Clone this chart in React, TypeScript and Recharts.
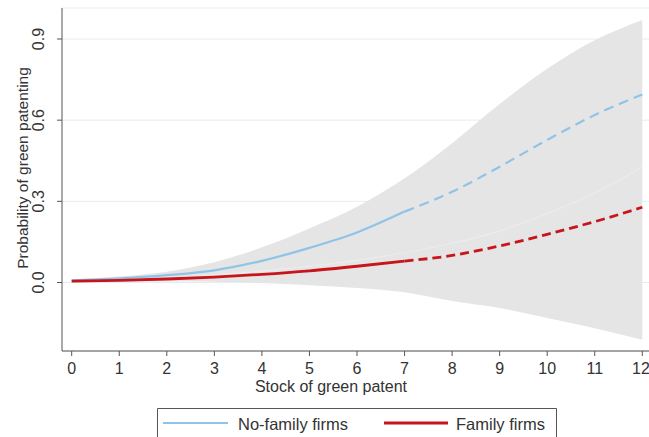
import React from 'react';
import { ComposedChart, Line, Area, XAxis, YAxis, CartesianGrid, Legend } from 'recharts';

const stock = [0, 1, 2, 3, 4, 5, 6, 7, 8, 9, 10, 11, 12];
const noFamily = [0.008, 0.015, 0.027, 0.045, 0.08, 0.128, 0.185, 0.262, 0.335, 0.428, 0.527, 0.619, 0.695];
const family = [0.005, 0.008, 0.013, 0.02, 0.03, 0.043, 0.06, 0.079, 0.1, 0.135, 0.178, 0.225, 0.278];
const ciUpper = [0.012, 0.022, 0.04, 0.075, 0.13, 0.2, 0.28, 0.385, 0.515, 0.66, 0.79, 0.895, 0.97];
const ciLower = [0, 0.003, 0.004, 0.003, -0.002, -0.01, -0.02, -0.036, -0.068, -0.094, -0.131, -0.169, -0.212];
const ciInner = [0.008, 0.012, 0.018, 0.028, 0.042, 0.06, 0.082, 0.11, 0.145, 0.19, 0.255, 0.33, 0.428];
const xTicks = [0, 1, 2, 3, 4, 5, 6, 7, 8, 9, 10, 11, 12];
const yTicks = [0, 0.3, 0.6, 0.9];
const observedMax = 7;

const BLUE = '#8fc4e8';
const RED = '#c8151b';
const FONT = '"Liberation Sans", Arial, sans-serif';

const data = stock.map((x, i) => ({
  x,
  band: [ciLower[i], ciUpper[i]],
  inner: ciInner[i],
  nfSolid: x <= observedMax ? noFamily[i] : null,
  nfDash: x >= observedMax ? noFamily[i] : null,
  fSolid: x <= observedMax ? family[i] : null,
  fDash: x >= observedMax ? family[i] : null,
}));

const XTick = (props: any) => {
  const { x, payload } = props;
  return (
    <text x={x} y={374} textAnchor="middle" fontSize={16} fill="#333" fontFamily={FONT}>
      {payload.value}
    </text>
  );
};

const YTick = (props: any) => {
  const { y, payload } = props;
  return (
    <text
      x={44}
      y={y}
      textAnchor="middle"
      fontSize={16}
      fill="#333"
      fontFamily={FONT}
      transform={`rotate(-90, 44, ${y})`}
    >
      {Number(payload.value).toFixed(1)}
    </text>
  );
};

const XTitle = () => (
  <text x={331} y={392} textAnchor="middle" fontSize={16} fill="#333" fontFamily={FONT}>
    Stock of green patent
  </text>
);

const YTitle = () => (
  <text
    x={28}
    y={168}
    textAnchor="middle"
    fontSize={15.5}
    fill="#333"
    fontFamily={FONT}
    transform="rotate(-90, 28, 168)"
  >
    Probability of green patenting
  </text>
);

const LegendBox = () => (
  <svg width={400} height={29} style={{ display: 'block' }}>
    <path d="M0.5,29 V0.5 H399.5 V29" fill="none" stroke="#555" strokeWidth={1} />
    <line x1={6} x2={71} y1={15} y2={15} stroke={BLUE} strokeWidth={2} />
    <text x={81} y={22} fontSize={16.5} fill="#333" fontFamily={FONT}>No-family firms</text>
    <line x1={227} x2={291} y1={15} y2={15} stroke={RED} strokeWidth={3} />
    <text x={299} y={22} fontSize={16.5} fill="#333" fontFamily={FONT}>Family firms</text>
  </svg>
);

export default function App() {
  return (
    <div style={{ position: 'absolute', left: 0, top: 0, width: 649, height: 437, background: '#fff' }}>
      <ComposedChart
        width={649}
        height={437}
        data={data}
        margin={{ top: 8, right: 0, left: 0, bottom: 56 }}
      >
        <CartesianGrid horizontal vertical={false} stroke="#e4eef2" strokeWidth={1} />
        <XAxis
          dataKey="x"
          type="number"
          domain={[-0.204, 12.141]}
          ticks={xTicks}
          allowDataOverflow
          height={30}
          tickSize={5}
          stroke="#555"
          tick={<XTick />}
          label={<XTitle />}
        />
        <YAxis
          type="number"
          domain={[-0.2532, 1.0146]}
          ticks={yTicks}
          allowDataOverflow
          width={62}
          tickSize={5}
          stroke="#555"
          tick={<YTick />}
          label={<YTitle />}
        />
        <Area
          type="monotone"
          dataKey="band"
          fill="#e5e5e5"
          fillOpacity={1}
          stroke="none"
          isAnimationActive={false}
        />
        <Line type="monotone" dataKey="inner" stroke="#ececec" strokeWidth={1.2} dot={false} isAnimationActive={false} />
        <Line type="monotone" dataKey="nfSolid" stroke={BLUE} strokeWidth={2.2} dot={false} isAnimationActive={false} />
        <Line type="monotone" dataKey="nfDash" stroke={BLUE} strokeWidth={2.2} strokeDasharray="10 6" dot={false} isAnimationActive={false} />
        <Line type="monotone" dataKey="fSolid" stroke={RED} strokeWidth={2.8} dot={false} isAnimationActive={false} />
        <Line type="monotone" dataKey="fDash" stroke={RED} strokeWidth={2.8} strokeDasharray="9 5" dot={false} isAnimationActive={false} />
        <Legend
          verticalAlign="middle"
          layout="horizontal"
          wrapperStyle={{ top: 408, left: 157, width: 400, height: 29 }}
          content={() => <LegendBox />}
        />
      </ComposedChart>
    </div>
  );
}
